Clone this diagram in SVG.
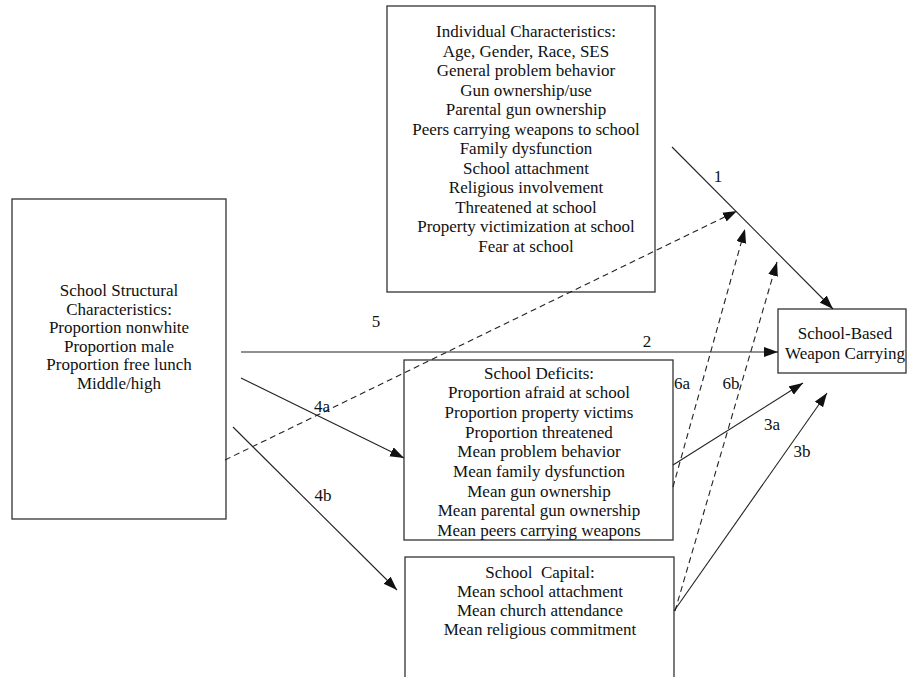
<svg xmlns="http://www.w3.org/2000/svg" width="909" height="677" viewBox="0 0 909 677">
<style>
.box{fill:#fff;stroke:#333;stroke-width:1.3}
.t{font-family:"Liberation Serif","Times New Roman",serif;font-size:17px;fill:#111;text-anchor:middle}
.lbl{font-family:"Liberation Serif","Times New Roman",serif;font-size:17px;fill:#111;text-anchor:middle}
.ln{fill:none;stroke:#222;stroke-width:1.1;marker-end:url(#ah)}
.dash{stroke-dasharray:6 4}
</style>
<defs>
<marker id="ah" markerUnits="userSpaceOnUse" markerWidth="16" markerHeight="12" refX="14" refY="5" orient="auto">
<path d="M0,0 L14,5 L0,10 Z" fill="#111"/>
</marker>
</defs>
<rect width="909" height="677" fill="#fff"/>
<g id="individual">
<rect class="box" x="387" y="6" width="268" height="286"/>
<text class="t" x="526" y="37">Individual Characteristics:</text>
<text class="t" x="526" y="56.5">Age, Gender, Race, SES</text>
<text class="t" x="526" y="76">General problem behavior</text>
<text class="t" x="526" y="95.5">Gun ownership/use</text>
<text class="t" x="526" y="115">Parental gun ownership</text>
<text class="t" x="526" y="134.5">Peers carrying weapons to school</text>
<text class="t" x="526" y="154">Family dysfunction</text>
<text class="t" x="526" y="173.5">School attachment</text>
<text class="t" x="526" y="193">Religious involvement</text>
<text class="t" x="526" y="212.5">Threatened at school</text>
<text class="t" x="526" y="232">Property victimization at school</text>
<text class="t" x="526" y="251.5">Fear at school</text>
</g>
<g id="structural">
<rect class="box" x="12" y="199" width="214" height="320"/>
<text class="t" x="119" y="296">School Structural</text>
<text class="t" x="119" y="314.5">Characteristics:</text>
<text class="t" x="119" y="333">Proportion nonwhite</text>
<text class="t" x="119" y="351.5">Proportion male</text>
<text class="t" x="119" y="370">Proportion free lunch</text>
<text class="t" x="119" y="388.5">Middle/high</text>
</g>
<g id="deficits">
<rect class="box" x="404" y="360" width="269" height="180"/>
<text class="t" x="539" y="378.5">School Deficits:</text>
<text class="t" x="539" y="398.2">Proportion afraid at school</text>
<text class="t" x="539" y="417.9">Proportion property victims</text>
<text class="t" x="539" y="437.6">Proportion threatened</text>
<text class="t" x="539" y="457.3">Mean problem behavior</text>
<text class="t" x="539" y="477">Mean family dysfunction</text>
<text class="t" x="539" y="496.7">Mean gun ownership</text>
<text class="t" x="539" y="516.4">Mean parental gun ownership</text>
<text class="t" x="539" y="536.1">Mean peers carrying weapons</text>
</g>
<g id="capital">
<rect class="box" x="405" y="557" width="269" height="140"/>
<text class="t" x="540" y="577.5" xml:space="preserve">School  Capital:</text>
<text class="t" x="540" y="596.5">Mean school attachment</text>
<text class="t" x="540" y="615.5">Mean church attendance</text>
<text class="t" x="540" y="634.5">Mean religious commitment</text>
</g>
<g id="outcome">
<rect class="box" x="778" y="309" width="128" height="64"/>
<text class="t" x="845" y="338.5">School-Based</text>
<text class="t" x="845" y="358.5">Weapon Carrying</text>
</g>
<g id="connectors">
<line class="ln" x1="672" y1="147" x2="833" y2="309"/>
<line class="ln" x1="241" y1="352" x2="778" y2="352"/>
<line class="ln dash" x1="225" y1="460" x2="737" y2="211"/>
<line class="ln" x1="241" y1="378" x2="404" y2="458"/>
<line class="ln" x1="233" y1="427" x2="397" y2="590"/>
<line class="ln" x1="673" y1="465" x2="803" y2="383"/>
<line class="ln" x1="674" y1="611" x2="827" y2="393"/>
<line class="ln dash" x1="673" y1="487" x2="745" y2="229"/>
<line class="ln dash" x1="675" y1="611" x2="777" y2="262"/>
<text class="lbl" x="718" y="182">1</text>
<text class="lbl" x="647" y="347">2</text>
<text class="lbl" x="376" y="327">5</text>
<text class="lbl" x="322" y="412">4a</text>
<text class="lbl" x="323" y="501">4b</text>
<text class="lbl" x="682" y="389">6a</text>
<text class="lbl" x="731" y="389">6b</text>
<text class="lbl" x="772" y="430">3a</text>
<text class="lbl" x="802" y="457">3b</text>
</g>
</svg>
